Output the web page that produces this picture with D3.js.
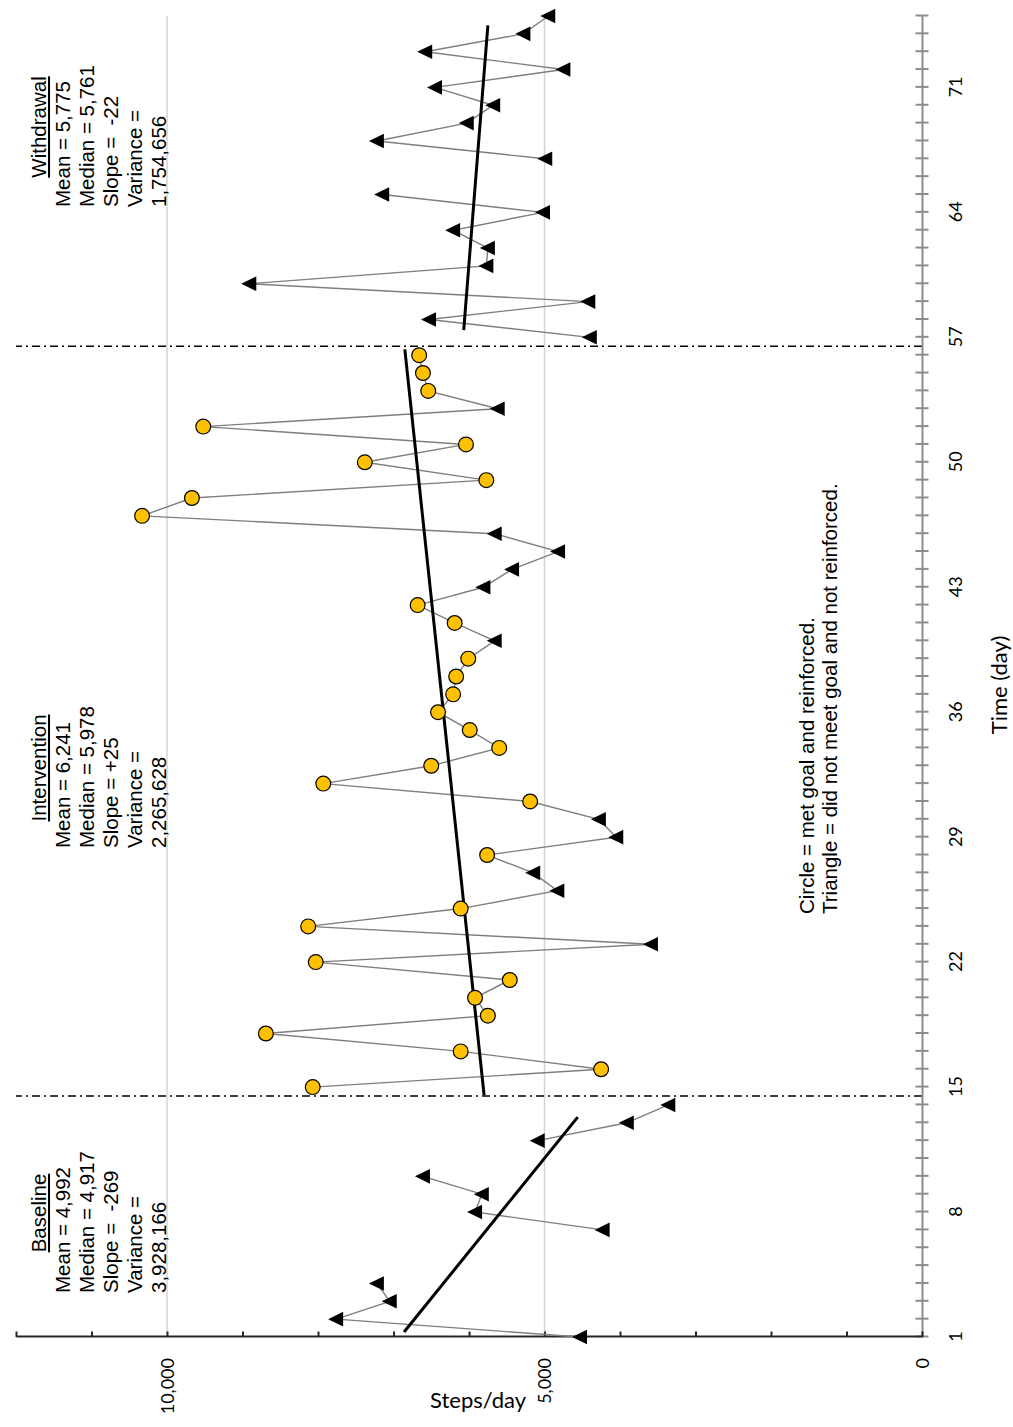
<!DOCTYPE html>
<html>
<head>
<meta charset="utf-8">
<script src="https://cdn.jsdelivr.net/npm/d3@7"></script>
<style>
  body { margin: 0; background: #fff; }
  svg { display: block; }
  .note { font-family: "Liberation Sans", Arial, sans-serif; font-size: 20.5px; fill: #000; }
  .tick text { font-family: Lato, sans-serif; font-size: 18px; fill: #000; }
  .title { font-family: Lato, sans-serif; font-size: 22px; fill: #000; }
</style>
</head>
<body>
<svg id="chart" width="1013" height="1427"></svg>
<script>
// ---- data ----
const days = d3.range(1, 76);

// steps per day, null = no observation
const steps = [
  4530, 7760, 7050, 7220, null, null, 4230, 5920, 5830, 6610, null, 5090, 3910, 3360,      // 1-14
  8070, 4250, 6110, 8690, 5750, 5920, 5460, 8030, 3590, 8130, 6110, 4830, 5150, 5760,      // 15-28
  4050, 4280, 5190, 7930, 6500, 5600, 5990, 6410, 6210, 6170, 6010, 5660, 6190, 6680,      // 29-42
  5810, 5430, 4820, 5660, 10330, 9670, 5770, 7380, 6040, 9520, 5620, 6540, 6610, 6660,     // 43-56
  4400, 6530, 4420, 8910, 5770, 5750, 6210, 5020, 7150, null, 4990, 7220, 6030, 5680,      // 57-70
  6450, 4750, 6580, 5280, 4950                                                             // 71-75
];

// days on which the goal was met (circle); all others are triangles
const circleDays = [15, 16, 17, 18, 19, 20, 21, 22, 24, 25, 28, 31, 32, 33, 34, 35, 36, 37,
  38, 39, 41, 42, 47, 48, 49, 50, 51, 52, 54, 55, 56];

const phaseStart = [1, 15, 57];
const phaseEnd = [14, 56, 75];
const phaseChanges = [14.5, 56.5];

const phaseNames = ["Baseline", "Intervention", "Withdrawal"];
const phaseMean = ["4,992", "6,241", "5,775"];
const phaseMedian = ["4,917", "5,978", "5,761"];
const phaseSlope = ["\u00a0-269", "+25", "\u00a0-22"];
const phaseVariance = ["3,928,166", "2,265,628", "1,754,656"];

// trend line end points [day, steps]
const trendLines = [
  [[1.28, 6860], [13.32, 4560]],
  [[14.55, 5800], [56.33, 6850]],
  [[57.4, 6070], [74.48, 5750]]
];

const dayLabels = [1, 8, 15, 22, 29, 36, 43, 50, 57, 64, 71];
const stepTicks = d3.range(0, 12001, 1000);
const stepLabels = [0, 5000, 10000];

const notes = ["Circle = met goal and reinforced.",
  "Triangle = did not meet goal and not reinforced."];

// ---- drawing ----
const svg = d3.select("#chart");

// the chart is drawn upright and then turned a quarter to the left
const g = svg.append("g").attr("transform", "translate(0,1427) rotate(-90)");

const x = d3.scaleLinear().domain([1, 75]).range([90, 1411]);
const y = d3.scaleLinear().domain([0, 12000]).range([922, 16]);

// gridlines
g.selectAll(".grid")
  .data([5000, 10000])
  .enter()
  .append("line")
  .attr("class", "grid")
  .attr("x1", x(1)).attr("x2", x(75))
  .attr("y1", d => y(d)).attr("y2", d => y(d))
  .attr("stroke", "#d4d4d4")
  .attr("stroke-width", 1.5);

// phase change lines
g.selectAll(".phase")
  .data(phaseChanges)
  .enter()
  .append("line")
  .attr("class", "phase")
  .attr("x1", d => x(d)).attr("x2", d => x(d))
  .attr("y1", y(0)).attr("y2", y(12000))
  .attr("stroke", "#000")
  .attr("stroke-width", 1.3)
  .attr("stroke-dasharray", "8,4,2,4");

// day axis
const xAxis = d3.axisBottom(x)
  .tickValues(days)
  .tickSize(6.5)
  .tickSizeOuter(0)
  .tickFormat(d => dayLabels.includes(d) ? d : "");

const gx = g.append("g")
  .attr("transform", `translate(0,${y(0)})`)
  .call(xAxis);
gx.select(".domain").attr("stroke", "#8c8c8c").attr("stroke-width", 2);
gx.selectAll(".tick line").attr("y1", -6.5).attr("stroke", "#8c8c8c").attr("stroke-width", 2);
gx.selectAll(".tick text").attr("y", 40).attr("dy", null);

// steps axis
const yAxis = d3.axisLeft(y)
  .tickValues(stepTicks)
  .tickSize(5.5)
  .tickSizeOuter(0)
  .tickFormat(d => stepLabels.includes(d) ? d3.format(",")(d) : "");

const gy = g.append("g")
  .attr("transform", `translate(${x(1)},0)`)
  .call(yAxis);
gy.select(".domain").attr("stroke", "#262626").attr("stroke-width", 2);
gy.selectAll(".tick line").attr("x2", 5.5).attr("stroke", "#262626").attr("stroke-width", 2);
gy.selectAll(".tick text").attr("x", -21).attr("dy", "0.35em");

// data lines, one per phase
const points = days.map((d, i) => ({ day: d, steps: steps[i] }));
const line = d3.line()
  .defined(d => d.steps != null)
  .x(d => x(d.day))
  .y(d => y(d.steps));

phaseStart.forEach(function (s, i) {
  const pts = points.filter(p => p.day >= s && p.day <= phaseEnd[i]);
  g.append("path")
    .datum(pts)
    .attr("d", line)
    .attr("fill", "none")
    .attr("stroke", "#7f7f7f")
    .attr("stroke-width", 1.4);
});

// trend lines
g.selectAll(".trend")
  .data(trendLines)
  .enter()
  .append("path")
  .attr("class", "trend")
  .attr("d", d3.line().x(d => x(d[0])).y(d => y(d[1])))
  .attr("fill", "none")
  .attr("stroke", "#000")
  .attr("stroke-width", 3);

// markers
const observed = points.filter(p => p.steps != null);

g.selectAll(".tri")
  .data(observed.filter(p => !circleDays.includes(p.day)))
  .enter()
  .append("path")
  .attr("class", "tri")
  .attr("transform", d => `translate(${x(d.day)},${y(d.steps)})`)
  .attr("d", "M0,-8L7.3,7L-7.3,7Z")
  .attr("fill", "#000");

g.selectAll(".dot")
  .data(observed.filter(p => circleDays.includes(p.day)))
  .enter()
  .append("circle")
  .attr("class", "dot")
  .attr("cx", d => x(d.day))
  .attr("cy", d => y(d.steps))
  .attr("r", 7.4)
  .attr("fill", "#ffc000")
  .attr("stroke", "#000")
  .attr("stroke-width", 1.2);

// phase summaries
const blockStart = [134, 579, 1220];
phaseNames.forEach(function (name, i) {
  const t = g.append("g").attr("class", "note");
  t.append("text")
    .attr("x", blockStart[i] + 80)
    .attr("y", 46)
    .attr("text-anchor", "middle")
    .attr("text-decoration", "underline")
    .text(name);
  const rows = ["Mean = " + phaseMean[i],
    "Median = " + phaseMedian[i],
    "Slope = " + phaseSlope[i],
    "Variance =",
    phaseVariance[i]];
  rows.forEach(function (r, j) {
    t.append("text")
      .attr("x", blockStart[i])
      .attr("y", 70 + 24 * j)
      .text(r);
  });
});

// marker note
g.selectAll(".legend")
  .data(notes)
  .enter()
  .append("text")
  .attr("class", "note")
  .attr("x", 513)
  .attr("y", (d, i) => 814 + 23 * i)
  .text(d => d);

// axis titles
g.append("text")
  .attr("class", "title")
  .attr("x", 742)
  .attr("y", 1007)
  .attr("text-anchor", "middle")
  .text("Time (day)");

svg.append("text")
  .attr("class", "title")
  .attr("x", 430)
  .attr("y", 1408)
  .text("Steps/day");
</script>
</body>
</html>
